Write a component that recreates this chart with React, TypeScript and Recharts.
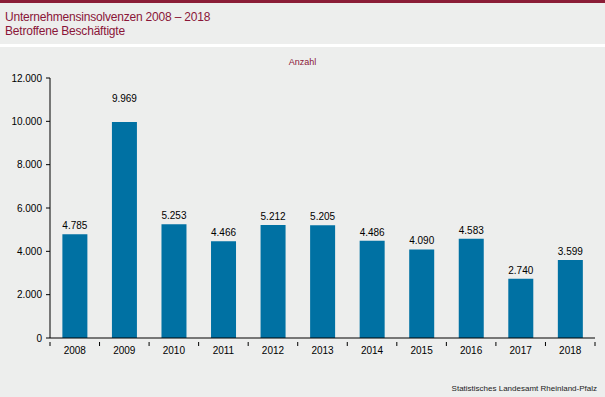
import React from 'react';
import { BarChart, Bar, XAxis, YAxis, LabelList } from 'recharts';

const years = ['2008', '2009', '2010', '2011', '2012', '2013', '2014', '2015', '2016', '2017', '2018'];
const employees = [4785, 9969, 5253, 4466, 5212, 5205, 4486, 4090, 4583, 2740, 3599];
const yTicks = [0, 2000, 4000, 6000, 8000, 10000, 12000];

const data = years.map((year, i) => ({ year, value: employees[i] }));

const fmt = (v: number) => v.toLocaleString('de-DE');

const FONT = '"Liberation Sans", Arial, sans-serif';
const MAROON = '#8a1538';
const BG = '#edeeed';

function YearTick(props: any) {
  const { x, y, payload, index } = props;
  const half = payload.offset ?? 24.8;
  return (
    <g>
      <line x1={x - half} y1={y - 4} x2={x - half} y2={y} stroke="#000" />
      {index === years.length - 1 && (
        <line x1={x + half} y1={y - 4} x2={x + half} y2={y} stroke="#000" />
      )}
      <text x={x} y={y + 8} textAnchor="middle" fontSize={10} fill="#000" fontFamily={FONT}>
        {payload.value}
      </text>
    </g>
  );
}

// value above the bar; bars reaching close to the top get a bit more room, as in the original
function ValueLabel(props: any) {
  const { x, y, width, value } = props;
  const lift = y < 130 ? 20 : 5;
  return (
    <text x={x + width / 2} y={y - lift} textAnchor="middle" fontSize={10} fill="#000" fontFamily={FONT}>
      {fmt(Number(value))}
    </text>
  );
}

export default function App() {
  return (
    <div style={{ position: 'absolute', left: 0, top: 0, width: 605, height: 397, background: BG, fontFamily: FONT }}>
      <div style={{ position: 'absolute', left: 0, top: 0, width: 605, height: 3, background: '#8b1d37' }} />
      <div style={{ position: 'absolute', left: 0, top: 44, width: 605, height: 3, background: '#fff' }} />
      <div style={{ position: 'absolute', left: 5, top: 10, fontSize: 12, lineHeight: '14px', color: MAROON, letterSpacing: -0.2 }}>
        Unternehmensinsolvenzen 2008 – 2018
        <br />
        Betroffene Beschäftigte
      </div>
      <div style={{ position: 'absolute', left: 0, width: 605, top: 57, textAlign: 'center', fontSize: 9, color: MAROON }}>
        Anzahl
      </div>
      <div style={{ position: 'absolute', right: 8, top: 384, fontSize: 8, color: '#222' }}>
        Statistisches Landesamt Rheinland-Pfalz
      </div>
      <div style={{ position: 'absolute', left: 0, top: 0 }}>
        <BarChart width={605} height={397} data={data} margin={{ top: 78, right: 10, left: 5, bottom: 29 }} barCategoryGap="25%">
          <XAxis
            dataKey="year"
            tickLine={false}
            axisLine={{ stroke: '#000' }}
            tick={<YearTick />}
            height={30}
            interval={0}
          />
          <YAxis
            width={45}
            domain={[0, 12000]}
            ticks={yTicks}
            tickFormatter={fmt}
            tickSize={4}
            tickMargin={4}
            axisLine={{ stroke: '#000' }}
            tickLine={{ stroke: '#000' }}
            tick={{ fontSize: 10, fill: '#000', fontFamily: FONT }}
            interval={0}
          />
          <Bar dataKey="value" fill="#0071a3" isAnimationActive={false}>
            <LabelList dataKey="value" content={<ValueLabel />} />
          </Bar>
        </BarChart>
      </div>
    </div>
  );
}
